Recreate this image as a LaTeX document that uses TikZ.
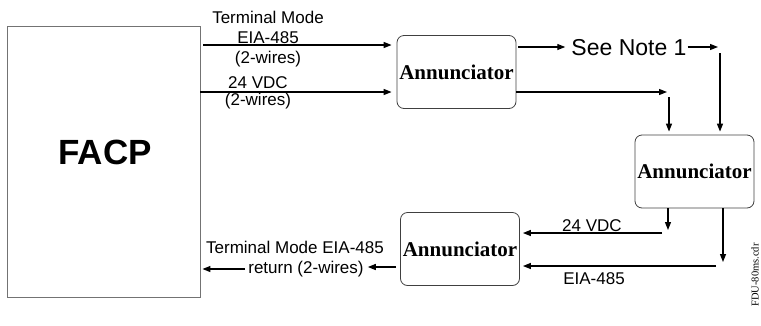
\documentclass[tikz,border=0pt]{standalone}
\usepackage{fontspec}
\setmainfont{Liberation Sans}
\newfontfamily\annfont{Liberation Serif}
\usepackage{tikz}
\usetikzlibrary{arrows.meta}

\begin{document}
\begin{tikzpicture}[x=1pt, y=-1pt, >={Triangle[length=8pt,width=6pt]},
    wire/.style={line width=1.3pt},
    annbox/.style={draw=black!75, line width=0.8pt, rounded corners=7pt, minimum width=119pt, minimum height=73pt, inner sep=0pt, font=\annfont\bfseries\fontsize{21}{21}\selectfont},
    lbl/.style={font=\fontsize{17}{17}\selectfont, inner sep=0pt, align=center}]
    \useasboundingbox (0,0) rectangle (761,325);

    \node[draw=black!55, line width=0.9pt, minimum width=193pt, minimum height=271pt] (facp) at (103.5,161.5) {};
    \node[font=\bfseries\fontsize{35}{35}\selectfont] (facptext) at (105,152) {FACP};

    \node[annbox] (ann1) at (456.5,72) {Annunciator};
    \node[annbox] (ann2) at (694.5,171.5) {Annunciator};
    \node[annbox] (ann3) at (460,249) {Annunciator};

    \node[lbl, font=\fontsize{17}{20}\selectfont] (tmlabel) at (268,39.5) {Terminal Mode\\EIA-485\\(2-wires)};
    \draw[wire, ->, shorten <=3pt, shorten >=5pt] (facp.east |- 0,45) -- (ann1.west |- 0,45);

    \node[lbl, font=\fontsize{17}{16.5}\selectfont] (vdclabel) at (258,93) {24 VDC\\(2-wires)};
    \draw[wire, ->, shorten >=5pt] (facp.east |- 0,92) -- (ann1.west |- 0,92);

    \node[font=\fontsize{23}{23}\selectfont, inner sep=0pt] (note) at (629,48) {See Note 1};
    \coordinate (n1) at (720,47);
    \coordinate (n2) at (669,92);
    \draw[wire, ->, shorten <=2pt, shorten >=6pt] (ann1.east |- n1) -- (note.west |- n1);
    \draw[wire, ->, shorten <=1pt] (note.east |- n1) -- ([xshift=-2pt]n1);
    \draw[wire, ->, shorten <=6pt, shorten >=3pt] (n1) -- (n1 |- ann2.north);
    \draw[wire, ->] (ann1.east |- n2) -- ([xshift=-2pt]n2);
    \draw[wire, ->, shorten <=5pt, shorten >=3pt] (n2) -- (n2 |- ann2.north);

    \coordinate (s1) at (668,233);
    \coordinate (s2) at (723,266);
    \draw[wire, ->, shorten >=3pt] (ann2.south -| s1) -- (s1);
    \draw[wire, ->, shorten >=4pt] (ann2.south -| s2) -- (s2);
    \draw[wire, ->, shorten <=6pt, shorten >=3pt] (s1) -- (ann3.east |- s1);
    \draw[wire, ->, shorten <=7pt, shorten >=3pt] (s2) -- (ann3.east |- s2);
    \node[lbl] (vdcret) at (592,226) {24 VDC};
    \node[lbl] (eiaret) at (594,279) {EIA-485};

    \node[lbl] (ret1) at (295,247) {Terminal Mode EIA-485};
    \node[lbl] (ret2) at (306,269) {return (2-wires)};
    \draw[wire, ->, shorten <=4pt, shorten >=4pt] (ann3.west |- 0,267) -- (ret2.east |- 0,267);
    \draw[wire, ->, shorten <=3pt, shorten >=2pt] (ret2.west) -- (facp.east |- ret2.west);

    \node[rotate=90, font=\annfont\fontsize{10.5}{10.5}\selectfont] (fdu) at (755,275) {FDU-80ms.cdr};
\end{tikzpicture}
\end{document}
